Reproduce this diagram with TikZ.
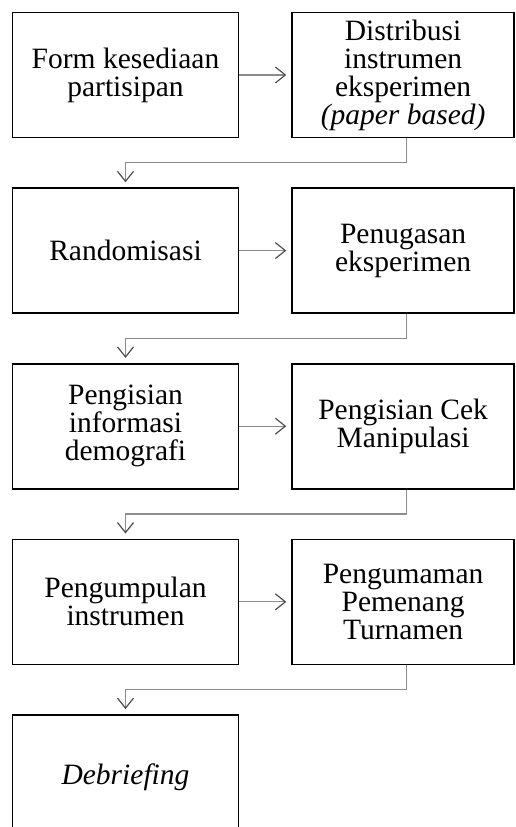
\documentclass[tikz,border=0pt]{standalone}
\usepackage{fontspec}
\setmainfont{Liberation Serif}
\usetikzlibrary{positioning}
\usetikzlibrary{arrows.meta}

\begin{document}
\begin{tikzpicture}[x=1pt,y=1pt,
            node distance = 49pt and 52pt,
            box/.style = {draw,line width=1.6pt,align=center,inner sep=0pt,
                minimum height=125pt,font=\fontsize{29.5}{28}\selectfont},
            lbox/.style = {box,minimum width=226pt},
            rbox/.style = {box,minimum width=222pt},
            conn/.style = {draw=black!45,line width=1.2pt,shorten >=5pt,
                -{Straight Barb[length=10pt,width=16pt,line width=1.2pt,color=black!70]}}]
            \clip (0,0) rectangle (515,-827);
            \useasboundingbox (0,0) rectangle (515,-827);
            \node[lbox] (l1) at (125.5,-75) {Form kesediaan\\partisipan};
            \node[rbox,right=of l1] (r1) {Distribusi\\instrumen\\eksperimen\\\textit{(paper based)}};
            \node[lbox,below=of l1] (l2) {Randomisasi};
            \node[rbox,right=of l2] (r2) {Penugasan\\eksperimen};
            \node[lbox,below=of l2] (l3) {Pengisian\\informasi\\demografi};
            \node[rbox,right=of l3] (r3) {Pengisian Cek\\Manipulasi};
            \node[lbox,below=of l3] (l4) {Pengumpulan\\instrumen};
            \node[rbox,right=of l4] (r4) {Pengumaman\\Pemenang\\Turnamen};
            \node[lbox,below=of l4] (l5) {\textit{Debriefing}};
            % horizontal steps
            \foreach \i in {1,...,4}
                \draw[conn] (l\i) -- (r\i);
            % back to the left column
            \foreach \i [count=\j from 2] in {1,...,4}
                \draw[conn] ([xshift=3.5pt]r\i.south) -- ++(0,-24.5) -| (l\j.north);
        \end{tikzpicture}
\end{document}
